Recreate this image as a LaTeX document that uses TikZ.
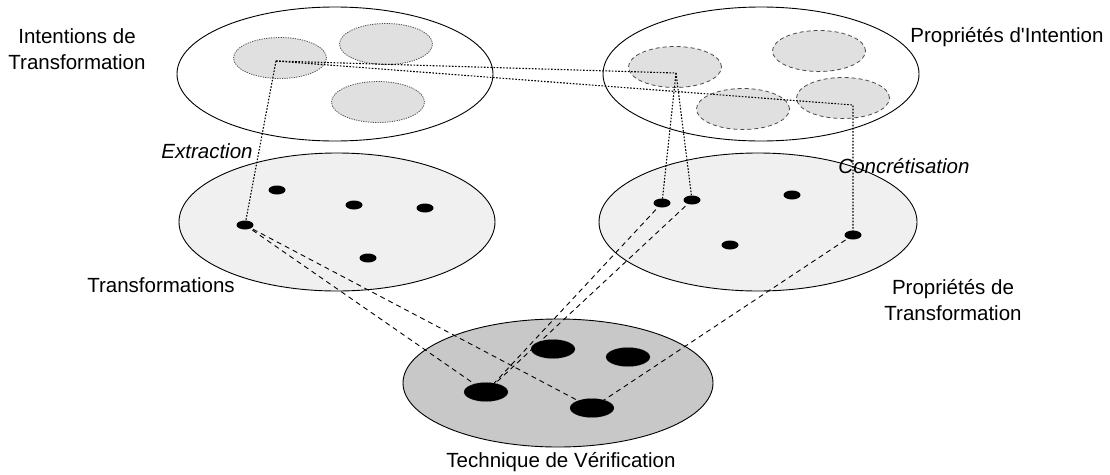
\documentclass[tikz,border=0pt]{standalone}
\usepackage{fontspec}
\setmainfont{Liberation Sans}
\usetikzlibrary{shapes.geometric}
\pgfdeclarelayer{front}
\pgfsetlayers{main,front}
\definecolor{subgray}{HTML}{E0E0E0}
\definecolor{midgray}{HTML}{F0F0F0}
\definecolor{botgray}{HTML}{C8C8C8}
\tikzset{
  bigell/.style={ellipse, draw=black, line width=0.9pt, inner sep=0pt},
  subdotted/.style={ellipse, draw=black!70, fill=subgray, line width=0.8pt, dash pattern=on 1.2pt off 1.2pt, inner sep=0pt, minimum width=93pt, minimum height=41pt},
  subdashed/.style={ellipse, draw=black!70, fill=subgray, line width=0.8pt, dash pattern=on 4pt off 3pt, inner sep=0pt, minimum width=93pt, minimum height=41pt},
  smalldot/.style={ellipse, fill=black, inner sep=0pt, minimum width=17pt, minimum height=9pt},
  blob/.style={ellipse, fill=black, draw=black!80, densely dotted, inner sep=0pt, minimum width=44pt, minimum height=19pt},
  connfine/.style={line width=1.1pt, dash pattern=on 1.6pt off 1.6pt},
  conndash/.style={line width=0.9pt, dash pattern=on 5pt off 4pt},
  lbl/.style={font=\fontsize{20.5}{26}\selectfont, align=center, inner sep=0pt},
  lbli/.style={font=\fontsize{20.5}{26}\selectfont\itshape, align=center, inner sep=0pt}
}
\begin{document}
\begin{tikzpicture}[x=1pt, y=-1pt]
\useasboundingbox (0,0) rectangle (1110,474);
% big ellipses
\node[bigell, fill=white, minimum width=316pt, minimum height=134pt] (TL) at (335,74) {};
\node[bigell, fill=white, minimum width=316pt, minimum height=134pt] (TR) at (761,74) {};
\node[bigell, fill=midgray, minimum width=316pt, minimum height=138pt] (ML) at (337,222) {};
\node[bigell, fill=midgray, minimum width=318pt, minimum height=138pt] (MR) at (758,222) {};
\node[bigell, fill=botgray, minimum width=310pt, minimum height=128pt] (BT) at (558,383) {};
% sub ellipses
\node[subdotted] (A) at (280,58) {};
\node[subdotted] (B) at (386,44) {};
\node[subdotted] (C) at (378,102) {};
\node[subdashed] (D) at (675,67) {};
\node[subdashed] (E) at (819,51) {};
\node[subdashed] (F) at (743,109) {};
\node[subdashed] (G) at (843,98) {};
% corner points
\coordinate (cA) at (276,61);
\coordinate (cD) at (676,73);
\coordinate (cG) at (853,105);
% front layer: dots and blobs
\begin{pgfonlayer}{front}
\node[smalldot] (t1) at (277,190) {};
\node[smalldot] (t2) at (354,205) {};
\node[smalldot] (t3) at (425,208) {};
\node[smalldot] (t4) at (245,225) {};
\node[smalldot] (t5) at (368,258) {};
\node[smalldot] (u1) at (662,203) {};
\node[smalldot] (u2) at (692,200) {};
\node[smalldot] (u3) at (792,195) {};
\node[smalldot] (u4) at (730,245) {};
\node[smalldot] (u5) at (853,235) {};
\node[blob] (H) at (486,392) {};
\node[blob] (I) at (553,349) {};
\node[blob] (J) at (628,357) {};
\node[blob] (K) at (592,408) {};
\end{pgfonlayer}
% fine dotted connectors
\draw[connfine] (cA) -- (cD);
\draw[connfine] (cA) -- (cG) -- (u5.center);
\draw[connfine] (cA) -- (t4.center);
\draw[connfine] (cD) -- (u1.center);
\draw[connfine] (cD) -- (u2.center);
% dashed connectors
\draw[conndash] (t4.center) -- (H.center);
\draw[conndash] (t4.center) -- (K.center);
\draw[conndash] (u1.center) -- (H.center);
\draw[conndash] (u2.center) -- (H.center);
\draw[conndash] (u5.center) -- (K.center);
% labels
\node[lbl] (l1) at (77,49) {Intentions de\\Transformation};
\node[lbl] (l2) at (1007,37) {Propriétés d\textquotesingle Intention};
\node[lbli] (l3) at (207,151) {Extraction};
\node[lbli] (l4) at (904,166) {Concrétisation};
\node[lbl] (l5) at (161,285) {Transformations};
\node[lbl] (l6) at (953,300) {Propriétés de\\Transformation};
\node[lbl] (l7) at (561,462) {Technique de Vérification};
\end{tikzpicture}
\end{document}
